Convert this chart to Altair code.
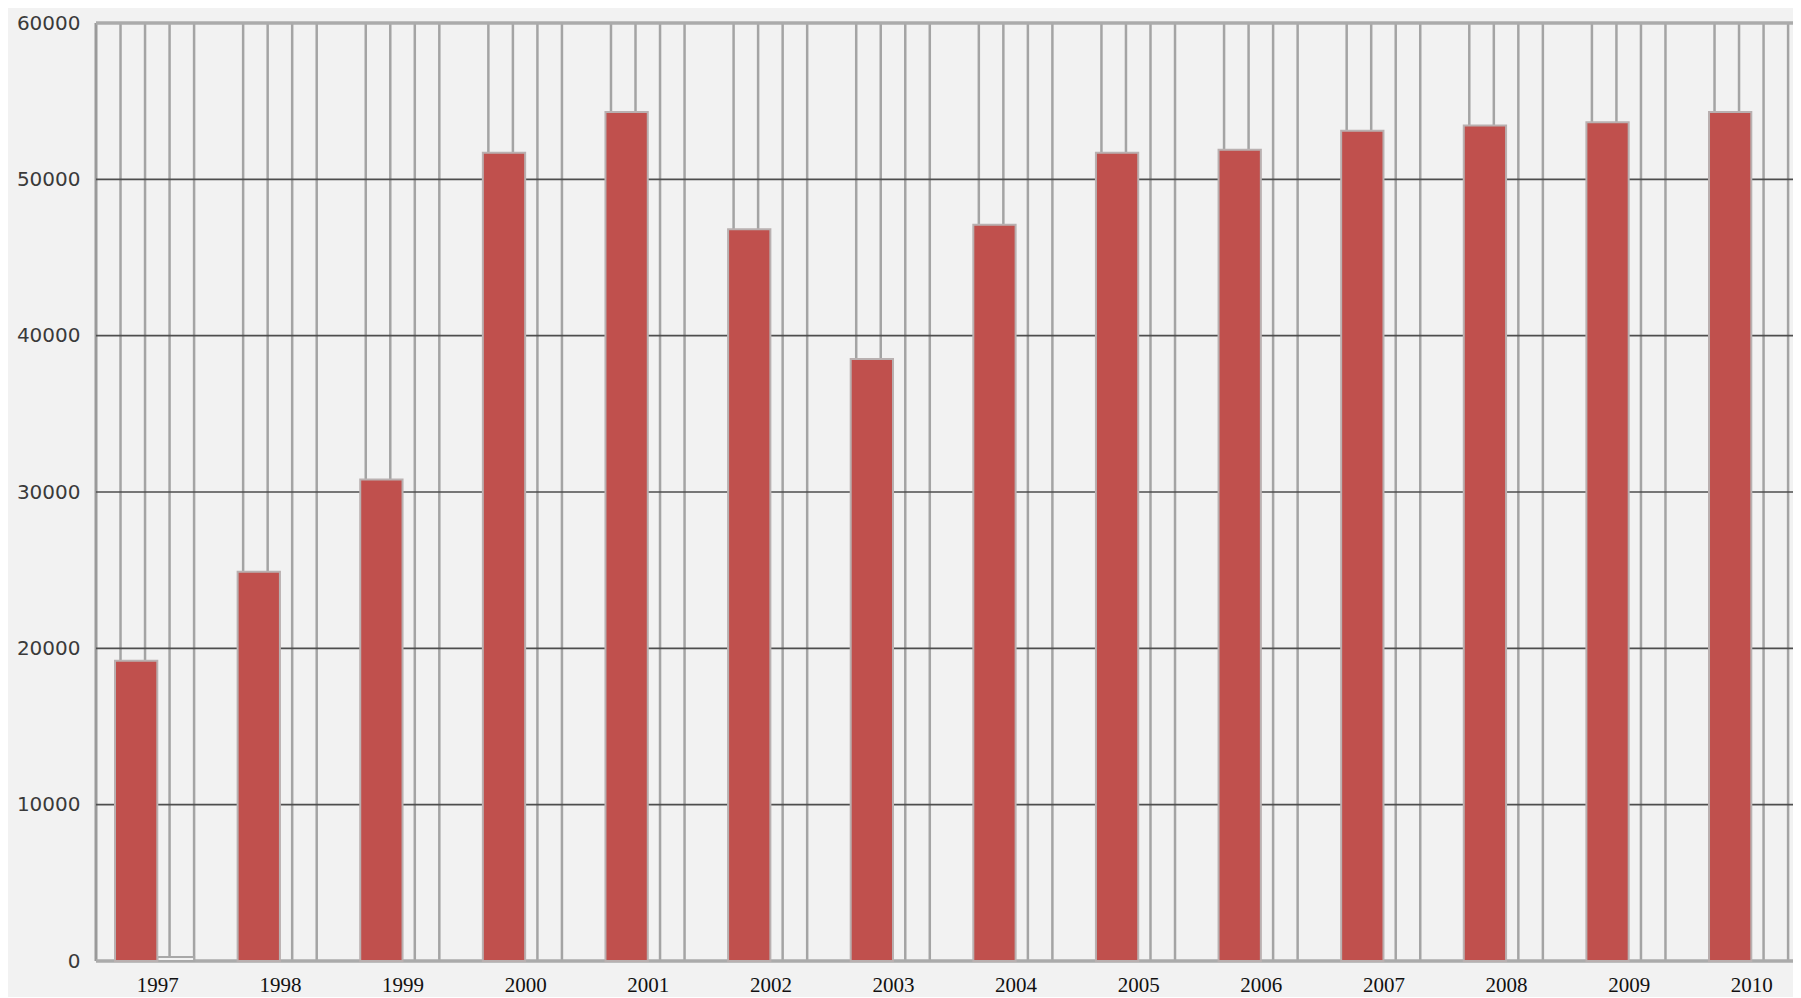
import json
import altair as alt
import pandas as pd

# ---- data ----
years = ["1997", "1998", "1999", "2000", "2001", "2002", "2003",
         "2004", "2005", "2006", "2007", "2008", "2009", "2010"]
series_a = [19200, 24900, 30800, 51700, 54300, 46800, 38500,
            47100, 51700, 51900, 53100, 53450, 53650, 54300]
series_b = [250, 0, 0, 0, 0, 0, 0, 0, 0, 0, 0, 0, 0, 0]
y_ticks = [0, 10000, 20000, 30000, 40000, 50000, 60000]

n = len(years)
df = pd.DataFrame({"year": years, "a": series_a, "b": series_b, "idx": list(range(n))})

X_MAX = 13.84
xscale = alt.Scale(domain=[0, X_MAX], nice=False, zero=False)
yscale = alt.Scale(domain=[0, 60000], nice=False)

label_expr = f"{json.dumps(years)}[floor(datum.value)]"
axis_x = alt.Axis(values=[i + 0.5 for i in range(n)], labelExpr=label_expr,
                  grid=False, domain=False, ticks=False, title=None,
                  labelFont="Liberation Serif", labelFontSize=21,
                  labelColor="#111111", labelPadding=13)
axis_y = alt.Axis(values=y_ticks, grid=False, domain=False, ticks=False, title=None,
                  labelFont="DejaVu Sans", labelFontSize=20,
                  labelColor="#3a3a3a", labelPadding=16, format="d")

# vertical "grid" lines: four per category at fifths of the category width
vl = pd.DataFrame({"p": [i + k / 5 for i in range(n) for k in range(1, 5) if i + k / 5 <= X_MAX]})
inner_h = pd.DataFrame({"v": y_ticks[1:-1]})
outer_h = pd.DataFrame({"v": [y_ticks[0], y_ticks[-1]]})

vlines = alt.Chart(vl).mark_rule(color="#a4a4a4", strokeWidth=2.5).encode(
    x=alt.X("p:Q", scale=xscale, axis=axis_x)
)
left_line = alt.Chart(pd.DataFrame({"p": [0]})).mark_rule(color="#9a9a9a", strokeWidth=3).encode(
    x=alt.X("p:Q", scale=xscale, axis=axis_x)
)
hlines = alt.Chart(inner_h).mark_rule(color="#4e4e4e", strokeWidth=1.6).encode(
    y=alt.Y("v:Q", scale=yscale, axis=axis_y)
)
outer_lines = alt.Chart(outer_h).mark_rule(color="#ababab", strokeWidth=3.5).encode(
    y=alt.Y("v:Q", scale=yscale, axis=axis_y)
)

bars_a = alt.Chart(df).transform_calculate(
    xa="datum.idx + 0.155", xa2="datum.idx + 0.5"
).mark_bar(fill="#c0504d", stroke="#b9b0b0", strokeWidth=2).encode(
    x=alt.X("xa:Q", scale=xscale, axis=axis_x),
    x2="xa2:Q",
    y=alt.Y("a:Q", scale=yscale, axis=axis_y),
    y2=alt.datum(0),
)

bars_b = alt.Chart(df).transform_filter("datum.b > 0").transform_calculate(
    xb="datum.idx + 0.5", xb2="datum.idx + 0.8"
).mark_bar(fill="#f2f2f2", stroke="#a8a8a8", strokeWidth=2).encode(
    x=alt.X("xb:Q", scale=xscale, axis=axis_x),
    x2="xb2:Q",
    y=alt.Y("b:Q", scale=yscale, axis=axis_y),
    y2=alt.datum(0),
)

chart = alt.layer(vlines, left_line, hlines, outer_lines, bars_b, bars_a).properties(
    width=1697,
    height=938,
    padding={"left": 88, "top": 15, "right": 0, "bottom": 36},
    autosize=alt.AutoSizeParams(type="none"),
    background="#f2f2f2",
).configure_view(stroke=None, fill="#f2f2f2")

chart.save("out.html", embed_options={"renderer": "svg", "actions": False})
